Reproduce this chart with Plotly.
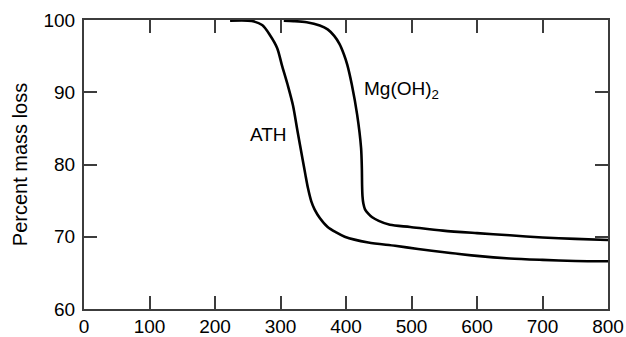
import plotly.graph_objects as go

ath_x = [223, 256, 272, 284, 295, 302, 311, 319, 326, 334, 338, 342, 347, 352, 360, 372, 385, 398, 434, 475, 510, 550, 600, 650, 700, 750, 800]
ath_y = [99.9, 99.86, 99.3, 97.9, 96.1, 93.8, 91.0, 88.2, 84.6, 80.6, 78.6, 76.7, 74.9, 73.8, 72.6, 71.35, 70.6, 70.0, 69.2, 68.75, 68.3, 67.85, 67.35, 67.0, 66.8, 66.65, 66.6]

mg_x = [305, 320, 340, 360, 372, 382, 390, 397, 402, 409, 417, 423, 424.2, 424.6, 425.2, 426.5, 429, 434, 440, 450, 467, 498, 548, 600, 650, 700, 750, 800]
mg_y = [99.9, 99.85, 99.7, 99.25, 98.7, 97.8, 96.7, 95.2, 93.8, 91.0, 86.9, 82.3, 79.5, 77.0, 75.6, 74.6, 73.8, 73.2, 72.7, 72.2, 71.65, 71.35, 70.85, 70.5, 70.2, 69.9, 69.7, 69.55]

x_ticks = [0, 100, 200, 300, 400, 500, 600, 700, 800]
y_ticks = [60, 70, 80, 90, 100]

FONT = "Liberation Sans, Arial, sans-serif"
AX = "#3c3c3c"

fig = go.Figure()
fig.add_trace(go.Scatter(x=ath_x, y=ath_y, mode="lines", name="ATH",
                         line=dict(color="black", width=2.6, shape="spline", smoothing=0.8)))
fig.add_trace(go.Scatter(x=mg_x, y=mg_y, mode="lines", name="Mg(OH)2",
                         line=dict(color="black", width=2.6, shape="spline", smoothing=0.8)))

fig.add_annotation(x=250, y=84.1, text="ATH", showarrow=False, xanchor="left", yanchor="middle",
                   font=dict(family=FONT, size=19, color="black"))
fig.add_annotation(x=424, y=90.3, text="Mg(OH)<sub>2</sub>", showarrow=False, xanchor="left", yanchor="middle",
                   font=dict(family=FONT, size=19, color="black"))

fig.update_layout(
    width=626, height=337,
    margin=dict(l=84, r=18, t=20, b=28),
    paper_bgcolor="white", plot_bgcolor="white",
    showlegend=False,
    font=dict(family=FONT, size=19, color="black"),
)
fig.update_xaxes(range=[0, 800], tickvals=x_ticks, ticks="inside", ticklen=13, tickwidth=2,
                 tickcolor=AX, showline=True, linecolor=AX, linewidth=2, mirror="ticks",
                 showgrid=False, zeroline=False, ticklabelstandoff=-1, automargin=False,
                 tickfont=dict(family=FONT, size=19, color="black"))
fig.update_yaxes(range=[60, 100], tickvals=y_ticks, ticks="inside", ticklen=13, tickwidth=2,
                 tickcolor=AX, showline=True, linecolor=AX, linewidth=2, mirror="ticks",
                 showgrid=False, zeroline=False, ticklabelstandoff=3, automargin=False,
                 title=dict(text="Percent mass loss", standoff=10, font=dict(family=FONT, size=20, color="black")),
                 tickfont=dict(family=FONT, size=19, color="black"))

fig.write_html("out.html", config={"displayModeBar": False},
               post_script="document.body.style.margin='0';document.body.style.overflow='hidden';")
